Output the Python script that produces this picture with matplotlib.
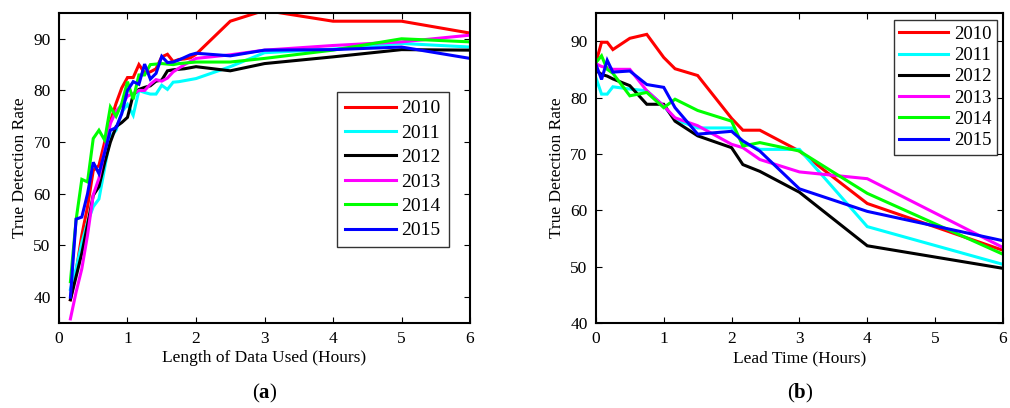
import matplotlib
matplotlib.use('Agg')
import matplotlib.pyplot as plt

plt.rcParams['font.family'] = ['Liberation Serif', 'DejaVu Serif']
plt.rcParams['mathtext.fontset'] = 'custom'
plt.rcParams['mathtext.bf'] = 'Liberation Serif:bold'

years = ['2010', '2011', '2012', '2013', '2014', '2015']
colors = ['#ff0000', '#00ffff', '#000000', '#ff00ff', '#00ff00', '#0000ff']

# (a) length of data used, hours
x_a = [m / 60 for m in range(10, 125, 5)] + [2.5, 3, 4, 5, 6]
red_a = [39.5, 45, 52, 57.5, 64.5, 65.5, 70, 74, 77.5, 80.5, 82.5, 82.5, 85.0, 83.4, 83.6, 84.2,
         86.5, 87.0, 85.6, 86.0, 86.1, 86.3, 87.0, 93.4, 95.5, 93.4, 93.4, 91.1]
cyan_a = [41.5, 45.5, 50.5, 54.5, 57.5, 59.0, 65.0, 71.0, 72.3, 75.8, 77.3, 75.2, 80.0, 79.6, 79.3, 79.3,
          81.0, 80.2, 81.6, 81.7, 81.9, 82.1, 82.3, 84.6, 87.3, 88.0, 89.1, 88.4]
black_a = [39.5, 44, 48.5, 54, 59.7, 61.4, 66, 70, 73, 73.8, 74.8, 79.2, 80.2, 80.6, 80.9, 81.8,
           82.0, 83.8, 84.0, 84.1, 84.2, 84.4, 84.6, 83.8, 85.2, 86.5, 87.9, 87.8]
magenta_a = [35.8, 41, 45.5, 52, 59.8, 63, 68.3, 73.6, 76, 77.2, 78.9, 79.4, 80.0, 80.0, 81.2, 82.1,
             81.8, 82.4, 83.6, 84.3, 85.0, 85.6, 86.2, 86.9, 87.8, 88.7, 89.4, 90.7]
green_a = [43, 55, 62.8, 62.3, 70.7, 72.3, 70.4, 76.8, 75.0, 77.5, 81.7, 78.3, 83.0, 83.0, 85.0, 85.1,
           85.2, 85.1, 85.0, 85.2, 85.3, 85.4, 85.5, 85.5, 86.2, 87.8, 90.0, 89.4]
blue_a = [40.0, 55.1, 55.5, 60.0, 66.1, 63.9, 68.0, 72.3, 72.8, 75.5, 80.0, 81.7, 81.2, 85.1, 82.2, 83.3,
          86.6, 85.4, 85.5, 85.9, 86.4, 86.9, 87.2, 86.7, 87.8, 87.9, 88.4, 86.2]

# (b) lead time, hours
x_b = [0, 1 / 12, 1 / 6, 0.25, 0.5, 0.75, 1.0, 7 / 6, 1.5, 2.0, 13 / 6, 29 / 12, 3, 4, 6]
red_b = [86.2, 89.8, 89.8, 88.5, 90.5, 91.2, 87.1, 85.1, 83.9, 76.3, 74.2, 74.2, 70.5, 61.2, 52.9]
cyan_b = [83.5, 80.6, 80.6, 81.9, 81.5, 81.2, 78.5, 76.1, 74.6, 74.6, 72.0, 70.8, 70.8, 57.1, 50.4]
black_b = [84.8, 84.1, 83.8, 83.3, 82.1, 78.8, 78.8, 75.8, 73.2, 71.1, 68.1, 66.9, 63.2, 53.7, 49.7]
magenta_b = [86.0, 85.5, 85.3, 85.0, 85.0, 81.2, 78.5, 76.4, 75.0, 71.7, 71.1, 69.0, 66.8, 65.6, 53.4]
green_b = [86.2, 87.4, 85.0, 84.3, 80.3, 80.9, 78.2, 79.7, 77.7, 75.8, 71.4, 72.0, 70.5, 63.0, 52.2]
blue_b = [85.9, 83.2, 86.6, 84.5, 84.7, 82.3, 81.8, 78.2, 73.5, 74.0, 72.3, 70.5, 63.8, 59.8, 54.6]

series_a = [red_a, cyan_a, black_a, magenta_a, green_a, blue_a]
series_b = [red_b, cyan_b, black_b, magenta_b, green_b, blue_b]

fig = plt.figure(figsize=(10.10, 4.08), dpi=100)
ax1 = fig.add_axes([0.0584, 0.2083, 0.407, 0.760])
ax2 = fig.add_axes([0.590, 0.2083, 0.403, 0.760])


def style_axes(ax, ylim, xlabel):
    ax.set_xlim(0, 6)
    ax.set_ylim(*ylim)
    ax.set_xticks(range(0, 7))
    ax.set_yticks(range(40, 91, 10))
    ax.tick_params(direction='in', top=True, right=True, labelsize=12.5, length=4, width=0.8, pad=6)
    for sp in ax.spines.values():
        sp.set_linewidth(1.5)
    ax.set_ylabel('True Detection Rate', fontsize=12.5, labelpad=4)
    ax.set_xlabel(xlabel, fontsize=12.5, labelpad=2)


for ys, c, yr in zip(series_a, colors, years):
    ax1.plot(x_a, ys, color=c, lw=2.2, label=yr, solid_joinstyle='miter')
style_axes(ax1, (35, 95), 'Length of Data Used (Hours)')
leg1 = ax1.legend(loc='upper left', bbox_to_anchor=(0.677, 0.745), fontsize=14, frameon=True, fancybox=False,
                  edgecolor='black', handlelength=2.6, handletextpad=0.3, labelspacing=0.35,
                  borderpad=0.4, borderaxespad=0)
leg1.get_frame().set_linewidth(1.0)

for ys, c, yr in zip(series_b, colors, years):
    ax2.plot(x_b, ys, color=c, lw=2.2, label=yr, solid_joinstyle='miter')
style_axes(ax2, (40, 95), 'Lead Time (Hours)')
leg2 = ax2.legend(loc='upper right', bbox_to_anchor=(0.985, 0.977), fontsize=13.5, frameon=True, fancybox=False,
                  edgecolor='black', handlelength=2.6, handletextpad=0.3, labelspacing=0.22,
                  borderpad=0.3, borderaxespad=0)
leg2.get_frame().set_linewidth(1.0)

fig.text(0.262, 0.035, r'($\mathbf{a}$)', ha='center', va='center', fontsize=15)
fig.text(0.792, 0.035, r'($\mathbf{b}$)', ha='center', va='center', fontsize=15)

fig.savefig('out.png', dpi=100)
